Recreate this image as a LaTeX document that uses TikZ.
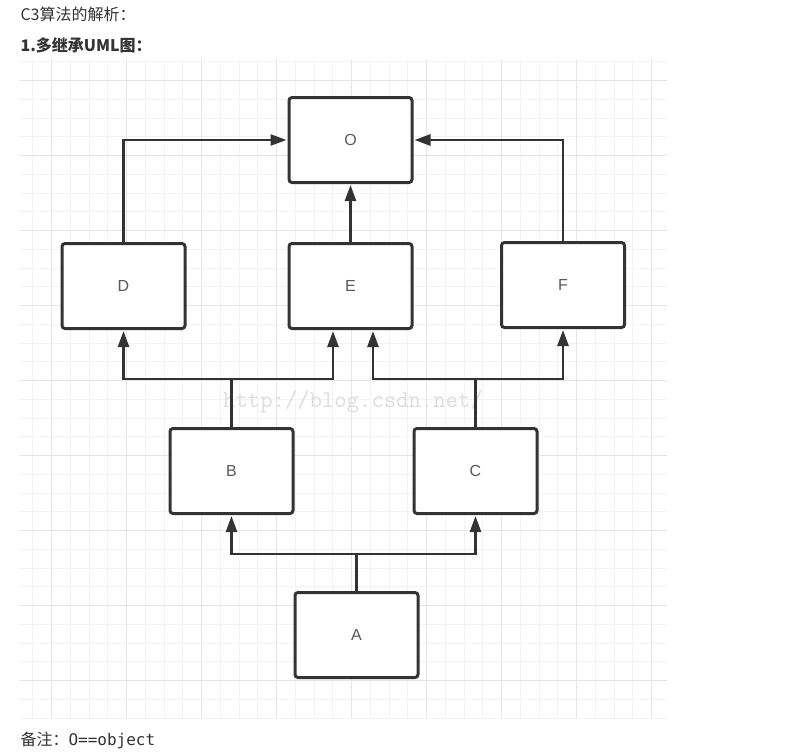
\documentclass[tikz,border=0pt]{standalone}
\usepackage{fontspec}
\usetikzlibrary{positioning,calc}
\usetikzlibrary{arrows.meta}
\newfontfamily\cjkfont{Noto Sans CJK SC}
\newfontfamily\labfont{Liberation Sans}
\newfontfamily\monofont{DejaVu Sans Mono}
\definecolor{boxline}{HTML}{333333}
\definecolor{labgray}{HTML}{595959}
\definecolor{textdark}{HTML}{333333}
\definecolor{gridminor}{HTML}{F3F3F3}
\definecolor{gridmajor}{HTML}{E6E6E6}
\definecolor{wmark}{HTML}{DDDDDD}
\tikzset{
  cls/.style={draw=boxline, line width=3pt, rounded corners=3pt, fill=white,
    minimum width=123pt, minimum height=85pt, inner sep=0pt,
    font=\labfont\fontsize{16}{19}\selectfont, text=labgray},
  inh/.style={draw=boxline, line width=2.6pt, -{Triangle[length=16pt,width=11pt]}, shorten >=1pt},
  wire/.style={draw=boxline, line width=2.6pt},
  caption/.style={anchor=west, text=textdark, font=\cjkfont\fontsize{16}{19}\selectfont},
}

\begin{document}
\begin{tikzpicture}[x=1pt,y=-1pt]
   \useasboundingbox (0,0) rectangle (810,753);
   \fill[white] (0,0) rectangle (810,753);

   % grid
   \foreach \i in {0,...,33}
      \draw[gridminor, line width=1pt] ({32.95+18.75*\i},60) -- ++(0,658);
   \foreach \i in {0,...,35}
      \draw[gridminor, line width=1pt] (19,{61.95+18.75*\i}) -- ++(648,0);
   \foreach \i in {0,...,8} {
      \draw[gridmajor, line width=1pt] ({51.7+75*\i},60) -- ++(0,658);
      \draw[gridmajor, line width=1pt] (19,{80.7+75*\i}) -- ++(648,0);
   }

   \node[text=wmark, font=\ttfamily\fontsize{24}{28}\selectfont] (wm) at (353,402) {http://blog.csdn.net/};

   % classes
   \node[cls] (O) at (350.5,140) {O};
   \node[cls] (E) at (350.5,286) {E};
   \node[cls] (D) at (123.5,286) {D};
   \node[cls] (F) at (563,285) {F};
   \node[cls] (B) at (231.5,471) {B};
   \node[cls] (C) at (475.5,471) {C};
   \node[cls] (A) at (356.5,635) {A};

   \coordinate (bj) at ($(B.north)+(0,-48)$);
   \coordinate (cj) at ($(C.north)+(0,-48)$);
   \coordinate (aj) at ($(A.north)+(0,-37)$);

   \draw[inh] (D.north) |- (O.west);
   \draw[inh] (E) -- (O);
   \draw[inh] (F.north) |- (O.east);

   \draw[wire] (B.north) -- (bj);
   \draw[inh] (bj) -| (D.south);
   \draw[inh] (bj) -| ([xshift=-17.5pt]E.south);

   \draw[wire] (C.north) -- (cj);
   \draw[inh] (cj) -| ([xshift=22.5pt]E.south);
   \draw[inh] (cj) -| (F.south);

   \draw[wire] (A.north) -- (aj);
   \draw[inh] (aj) -| (B.south);
   \draw[inh] (aj) -| (C.south);

   % captions
   \node[caption] (title) at (17,14) {C3算法的解析：};
   \node[caption, font=\cjkfont\bfseries\fontsize{16}{19}\selectfont] (subtitle) at (17,45) {1.多继承UML图：};
   \node[caption] (note) at (17,740) {备注：{\monofont O==object}};
\end{tikzpicture}
\end{document}
